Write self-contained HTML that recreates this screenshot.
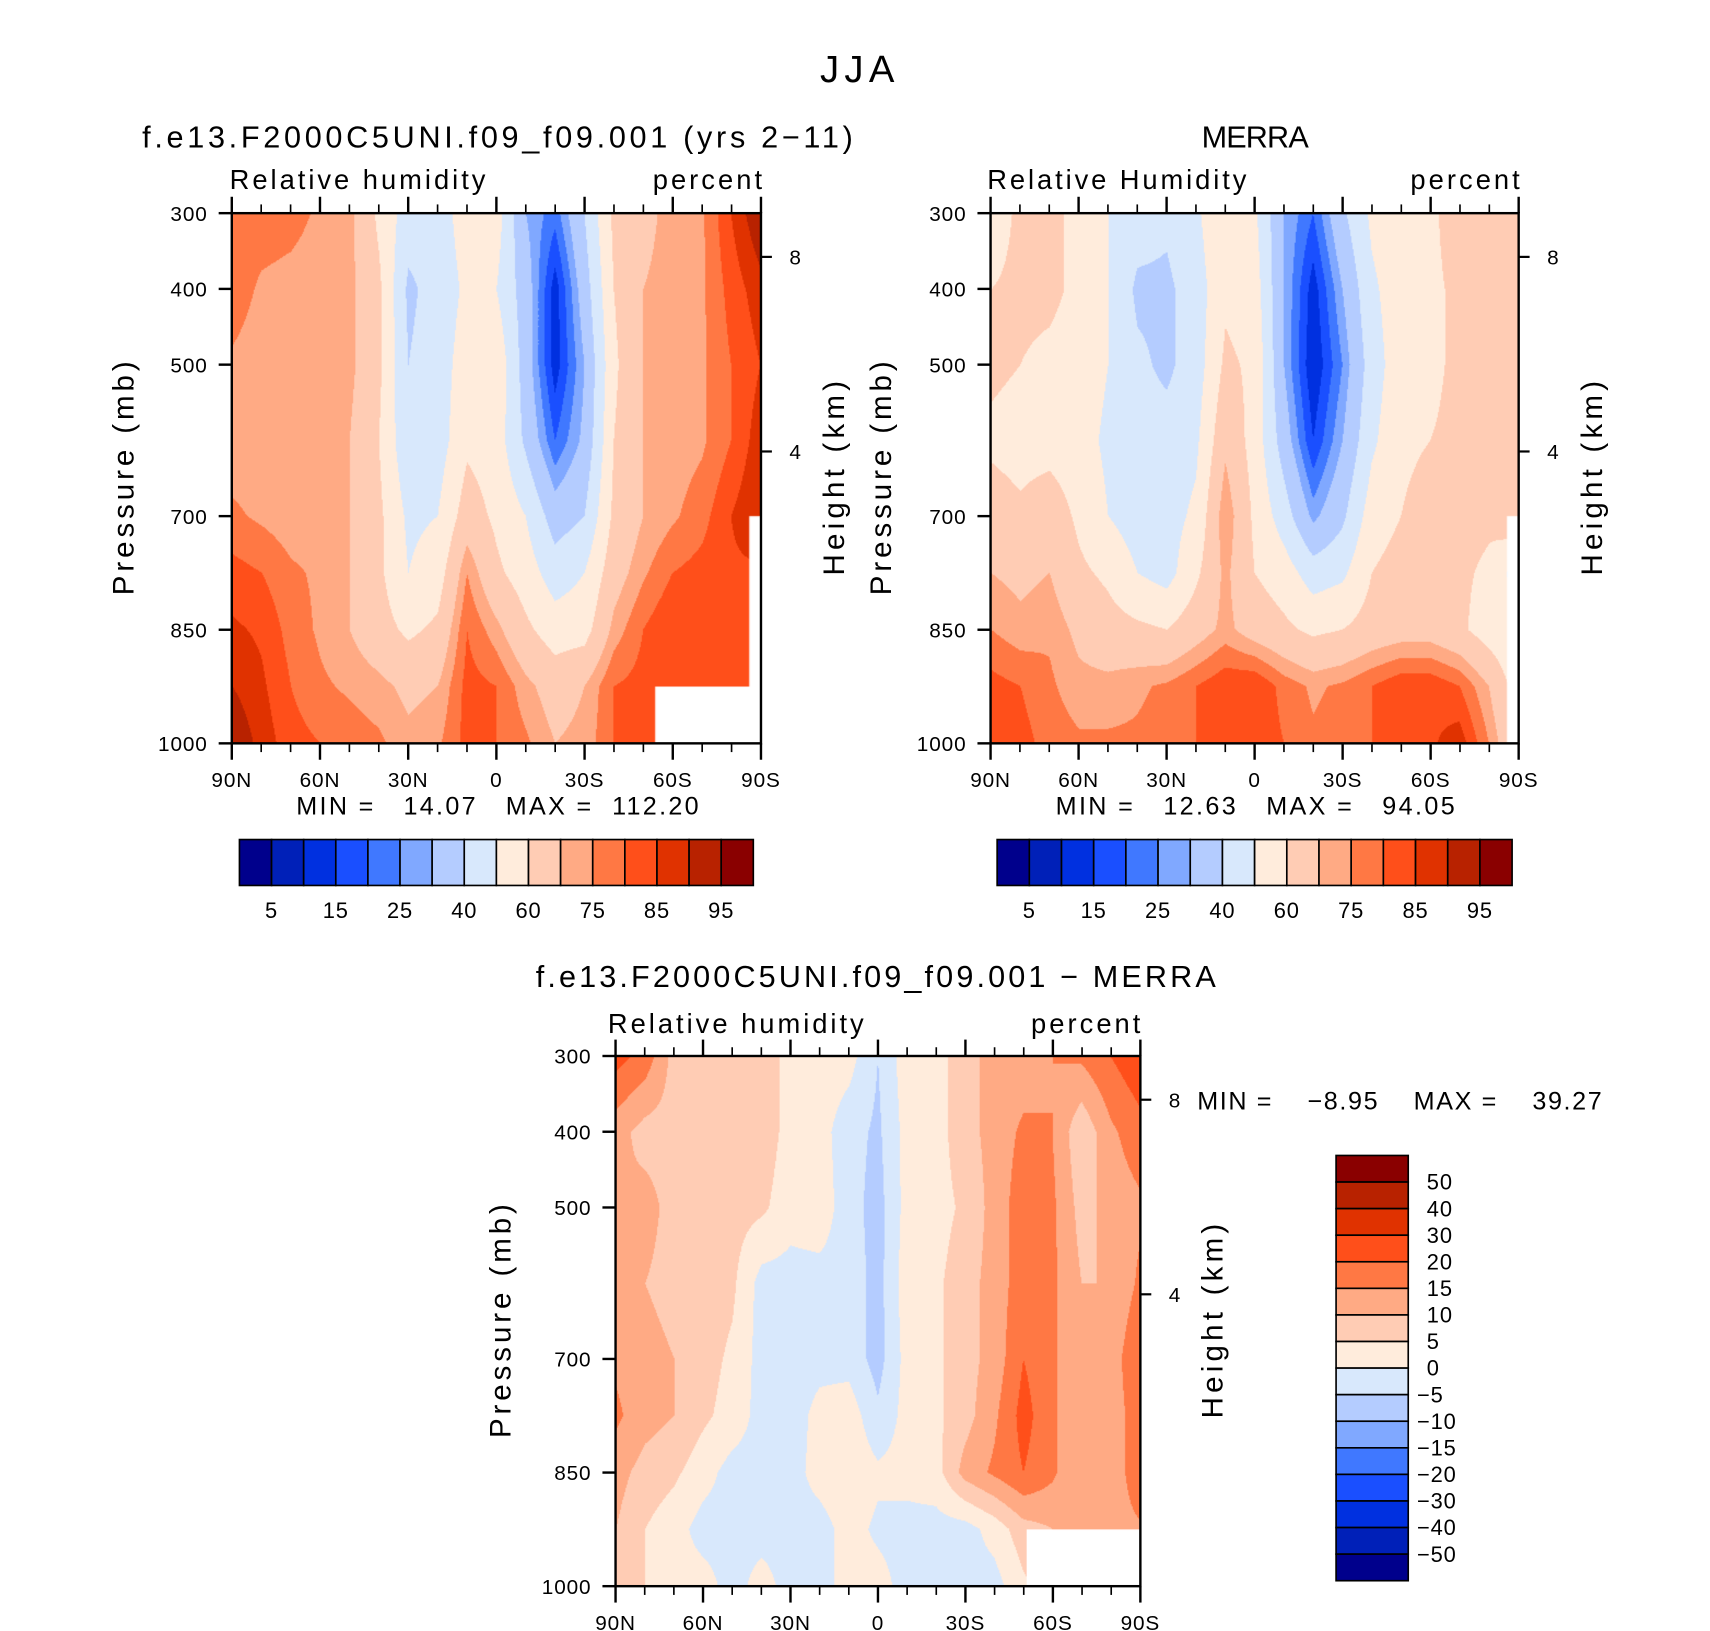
<!DOCTYPE html>
<html><head><meta charset="utf-8">
<style>
html,body{margin:0;padding:0;background:#fff;width:1710px;height:1631px;overflow:hidden}
#wrap{position:absolute;left:0;top:0;width:1564px;height:1492px;transform:scale(1.09335,1.09316);transform-origin:0 0}
svg{position:absolute;left:0;top:0}
canvas{position:absolute}
text{font-family:"Liberation Sans",sans-serif;fill:#000;white-space:pre}
</style></head>
<body>
<div id="wrap">
<canvas id="c1" style="left:212px;top:195px" width="484" height="485"></canvas>
<canvas id="c2" style="left:906px;top:195px" width="483" height="485"></canvas>
<canvas id="c3" style="left:563px;top:966px" width="480" height="485"></canvas>
<svg id="s" width="1564" height="1492" viewBox="0 0 1564 1492"></svg>
</div>
<script>
// ---- data ----
const lats = ["90N","80N","70N","60N","50N","40N","30N","20N","10N","0","10S","20S","30S","40S","50S","60S","70S","80S","90S"];
const pressures = [300,400,500,600,700,775,850,925,1000];
const modelRH = [
 [78,78,77,74,72,58,45,45,55,55,30,22,40,62,68,72,74,85,95],
 [78,74,73,72,72,62,38,44,52,50,35,12,35,60,70,72,74,82,88],
 [74,72,73,72,72,62,40,45,55,58,35,12,30,58,70,72,74,80,85],
 [72,72,72,72,70,60,42,45,58,55,38,20,32,60,70,72,74,80,88],
 [76,74,72,72,70,62,48,50,65,58,50,35,40,62,70,74,78,85,90],
 [82,80,76,74,70,62,50,55,75,62,55,45,50,66,74,80,82,84,84],
 [86,84,78,74,70,64,58,62,80,72,62,55,56,72,80,85,82,84,84],
 [90,86,80,76,74,72,68,70,82,80,72,66,70,80,82,84,84,84,84],
 [95,88,82,80,78,76,72,74,82,80,76,70,72,80,82,84,84,84,84]];
const merraRH = [
 [55,62,62,58,50,45,42,48,60,52,30,20,38,52,58,58,65,66,68],
 [60,62,62,58,50,38,38,45,58,55,30,12,30,48,56,58,62,65,68],
 [62,60,58,56,50,42,38,45,62,58,30,10,25,45,56,58,62,65,68],
 [58,56,56,54,48,44,44,48,68,56,35,15,30,48,58,60,62,62,66],
 [65,62,66,58,50,45,46,52,75,58,45,28,38,55,60,64,64,62,70],
 [70,68,70,62,58,50,46,58,72,60,55,45,48,60,64,66,62,58,45],
 [75,72,74,68,64,62,60,66,72,66,62,58,60,64,66,66,62,55,50],
 [82,80,76,72,72,74,76,80,84,85,78,74,76,80,84,84,80,70,55],
 [85,82,78,76,76,76,78,80,82,84,80,76,78,80,82,84,88,75,60]];
const diffRH = [
 [22,18,8,8,8,8,3,3,2,-5,3,3,8,12,12,15,16,20,24],
 [12,8,8,8,8,8,3,2,-3,-6,2,3,8,12,16,15,6,14,18],
 [10,12,8,8,7,6,2,3,-3,-7,2,3,6,12,18,16,8,12,14],
 [12,10,8,8,6,-2,-2,-2,-2,-7,3,4,8,12,18,16,10,10,16],
 [14,12,10,7,4,-2,-3,-2,-2,-7,2,4,8,12,20,16,10,12,20],
 [16,12,10,6,3,-2,-3,2,3,-4,2,4,8,14,22,16,10,12,18],
 [12,8,6,2,-2,-2,-2,2,4,1,2,3,12,16,20,16,10,10,20],
 [10,5,2,-2,-2,-2,-2,-2,2,-1,-2,-2,-2,2,8,10,12,12,14],
 [8,5,2,2,-2,2,-2,-2,2,2,-2,-2,-2,-2,4,8,10,10,10]];
const rhLevels = [5,10,15,20,25,30,40,50,60,70,75,80,85,90,95];
const rhLabels = ["5","15","25","40","60","75","85","95"];
const diffLevels = [-50,-40,-30,-20,-15,-10,-5,0,5,10,15,20,30,40,50];
const diffLabels = ["50","40","30","20","15","10","5","0","\u22125","\u221210","\u221215","\u221220","\u221230","\u221240","\u221250"];
const palette = ["#00008c","#0020b8","#0030e0","#1a4fff","#4078ff","#80a8ff","#b4ccff","#d8e8fc","#ffecdc","#ffccb4","#ffaa84","#ff7844","#ff4f1a","#e03200","#b82200","#8a0000"];
const xTickLabels = ["90N","60N","30N","0","30S","60S","90S"];
const pTicks = [300,400,500,700,850,1000];
const hTicks = [8,4];

// ---- helpers ----
function rgb(h){return [parseInt(h.substr(1,2),16),parseInt(h.substr(3,2),16),parseInt(h.substr(5,2),16)];}
const palRGB = palette.map(rgb);
function levelIdx(v,levels){let i=0;while(i<levels.length&&v>=levels[i])i++;return i;}
function sample(grid,latIdx,p){
  let j=0;while(j<pressures.length-2&&p>pressures[j+1])j++;
  const tp=Math.max(0,Math.min(1,(p-pressures[j])/(pressures[j+1]-pressures[j])));
  const i=Math.max(0,Math.min(lats.length-2,Math.floor(latIdx)));
  const tl=Math.max(0,Math.min(1,latIdx-i));
  const a=grid[j][i],b=grid[j][i+1],c=grid[j+1][i],d=grid[j+1][i+1];
  return (a*(1-tl)+b*tl)*(1-tp)+(c*(1-tl)+d*tl)*tp;
}
function drawField(id,grid,levels,blanks){
  const cv=document.getElementById(id),ctx=cv.getContext('2d');
  const W=cv.width,H=cv.height,img=ctx.createImageData(W,H);
  for(let y=0;y<H;y++){const p=300+700*y/(H-1);
    for(let x=0;x<W;x++){const li=18*x/(W-1);
      const v=sample(grid,li,p);const c=palRGB[levelIdx(v,levels)];
      const k=(y*W+x)*4;img.data[k]=c[0];img.data[k+1]=c[1];img.data[k+2]=c[2];img.data[k+3]=255;}}
  ctx.putImageData(img,0,0);
  ctx.fillStyle="#fff";
  blanks.forEach(b=>{
    const x0=b[0]/18*W,x1=b[1]/18*W,y0=(b[2]-300)/700*H,y1=(b[3]-300)/700*H;
    ctx.fillRect(x0,y0,x1-x0+1,y1-y0+1);});
}
drawField('c1',modelRH,rhLevels,[[14.4,18,925,1000],[17.6,18,700,1000]]);
drawField('c2',merraRH,rhLevels,[[17.6,18,700,1000]]);
drawField('c3',diffRH,diffLevels,[[14.1,18,925,1000]]);

const NS="http://www.w3.org/2000/svg", S=document.getElementById('s');
function el(tag,attrs,txt){const e=document.createElementNS(NS,tag);for(const k in attrs)e.setAttribute(k,attrs[k]);if(txt!==undefined)e.textContent=txt;S.appendChild(e);return e;}
function txt(x,y,s,size,anchor,name,rot,len){
  const t=el('text',{x:x,y:y,'font-size':size,'text-anchor':anchor||'start'},s);
  if(len){t.setAttribute('textLength',len);t.setAttribute('lengthAdjust','spacing');}
  else t.setAttribute('letter-spacing','0.8');
  if(rot)t.setAttribute('transform','rotate(-90 '+x+' '+y+')');
  
  
  return t;}
function line(x1,y1,x2,y2,w,name){const l=el('line',{x1:x1,y1:y1,x2:x2,y2:y2,stroke:'#000','stroke-width':w||2});
  
  return l;}

function axes(L,T,R,B,pfx,ylabX,hlabX){
  const yOf=p=>T+(p-300)/700*(B-T);
  const r=el('rect',{x:L,y:T,width:R-L,height:B-T,fill:'none',stroke:'#000','stroke-width':2.2});
  
  
  for(let k=0;k<=18;k++){const x=L+(R-L)*k/18,maj=k%3===0,len=maj?15:8;
    line(x,B,x,B+len,maj?2.2:1.5,pfx+'-x-tick');
    line(x,T,x,T-len,maj?2.2:1.5,pfx+'-x-tick-top');}
  xTickLabels.forEach((s,k)=>txt(L+(R-L)*k/6,B+40,s,19,'middle',pfx+'-x-tick-label'));
  pTicks.forEach(p=>{line(L-12,yOf(p),L,yOf(p),2.2,pfx+'-y-tick');txt(L-22,yOf(p)+7,String(p),19,'end',pfx+'-y-tick-label');});
  [[8,235],[4,413]].forEach(h=>{const yy=T+(h[1]-195)*(B-T)/485;line(R,yy,R+10,yy,2,pfx+'-height-tick');txt(R+26,yy+7,String(h[0]),19,'start',pfx+'-height-tick-label');});
  txt(ylabX,(T+B)/2,'Pressure (mb)',27,'middle',pfx+'-y-axis-title',true,214);
  txt(hlabX,(T+B)/2,'Height (km)',27,'middle',pfx+'-height-axis-title',true,178);
}
function hbar(L,T,W,H,pfx){
  const bw=W/16;
  palette.forEach((c,i)=>{const r=el('rect',{x:L+i*bw,y:T,width:bw,height:H,fill:c,stroke:'#000','stroke-width':1.5});
    
    });
  rhLabels.forEach((s,k)=>txt(L+bw*(1+2*k),T+H+30,s,20,'middle',pfx+'-colorbar-label'));
}

txt(784,75,'JJA',35,'middle','figure-title',false,68);
// panel 1
txt(455,135,'f.e13.F2000C5UNI.f09_f09.001 (yrs 2\u221211)',28,'middle','model-title',false,650);
txt(210,173,'Relative humidity',25,'start','model-variable-label',false,234);
txt(697,173,'percent',25,'end','model-units-label',false,100);
axes(212,195,696,680,'model',122,772);
txt(455,745,'MIN =   14.07   MAX =  112.20',23,'middle','model-min-max',false,368);
hbar(219,768,470,42,'model');
// panel 2
txt(1148,135,'MERRA',28,'middle','merra-title',false,98);
txt(903,173,'Relative Humidity',25,'start','merra-variable-label',false,237);
txt(1390,173,'percent',25,'end','merra-units-label',false,100);
axes(906,195,1389,680,'merra',815,1465);
txt(1148,745,'MIN =   12.63   MAX =   94.05',23,'middle','merra-min-max',false,365);
hbar(912,768,471,42,'merra');
// panel 3
txt(801,903,'f.e13.F2000C5UNI.f09_f09.001 \u2212 MERRA',28,'middle','difference-title',false,622);
txt(556,945,'Relative humidity',25,'start','difference-variable-label',false,234);
txt(1043,945,'percent',25,'end','difference-units-label',false,100);
axes(563,966,1043,1451,'diff',467,1118);
txt(1095,1015,'MIN =    \u22128.95    MAX =    39.27',23,'start','difference-min-max',false,370);
(function(){const L=1222,T=1057,W=66,H=389,bh=H/16;
  for(let i=0;i<16;i++){const r=el('rect',{x:L,y:T+i*bh,width:W,height:bh,fill:palette[15-i],stroke:'#000','stroke-width':1.5});
    
    }
  diffLabels.forEach((s,k)=>txt(s.charAt(0)==='\u2212'?1296:1305,T+bh*(k+1)+7,s,20,'start','difference-colorbar-label'));
})();
</script>
</body></html>
